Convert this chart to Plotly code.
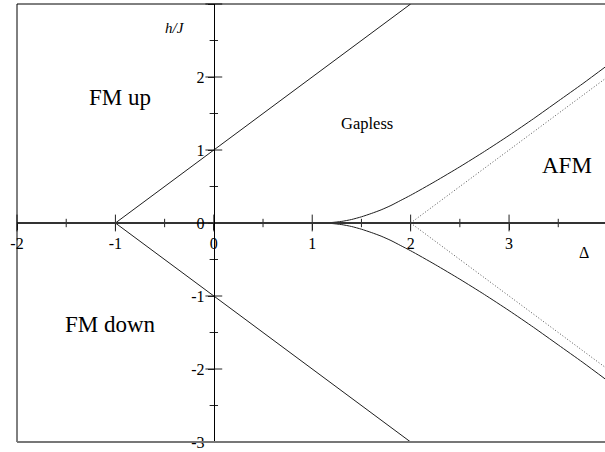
import plotly.graph_objects as go

# Phase diagram of the XXZ chain in a field: anisotropy Delta vs h/J
# Saturation lines h = +/-(1 + Delta)
sat_delta = [-1.0, 2.0]
sat_h_up = [0.0, 3.0]
sat_h_down = [0.0, -3.0]

# Gap boundary of the AFM (Neel) phase
gap_delta = [1.0, 1.1, 1.2, 1.3, 1.4, 1.5, 1.6, 1.7, 1.8, 1.9, 2.0,
             2.25, 2.5, 2.75, 3.0, 3.25, 3.5, 3.75, 4.0]
gap_h = [0.0, 0.001, 0.007, 0.022, 0.048, 0.085, 0.13, 0.18, 0.24, 0.31, 0.38,
         0.57, 0.77, 0.98, 1.2, 1.43, 1.67, 1.91, 2.16]

# Large-Delta asymptote of the gap (dotted)
asym_delta = [2.0, 4.0]
asym_h = [0.0, 2.0]

# Axis ticks
x_major = [-2, -1, 0, 1, 2, 3]
x_minor = [-1.5, -0.5, 0.5, 1.5, 2.5, 3.5]
y_major = [-3, -2, -1, 0, 1, 2, 3]
y_minor = [-2.5, -1.5, -0.5, 0.5, 1.5, 2.5]

# Region labels
regions = ["FM up", "FM down", "Gapless", "AFM"]
region_x = [-0.95, -1.05, 1.56, 3.59]
region_y = [1.72, -1.39, 1.36, 0.79]
region_size = [23, 23, 16.5, 23]

X_RANGE = [-2.0, 3.975]
Y_RANGE = [-3.0, 3.0]
SERIF = "Liberation Serif"
LINE = "#1e1e1e"
TICK = "#222"

fig = go.Figure()

for h in (sat_h_up, sat_h_down):
    fig.add_trace(go.Scatter(x=sat_delta, y=h, mode="lines",
                             line=dict(color=LINE, width=1)))

fig.add_trace(go.Scatter(x=gap_delta, y=gap_h, mode="lines",
                         line=dict(color=LINE, width=1, shape="spline", smoothing=0.6)))
fig.add_trace(go.Scatter(x=gap_delta, y=[-v for v in gap_h], mode="lines",
                         line=dict(color=LINE, width=1, shape="spline", smoothing=0.6)))

fig.add_trace(go.Scatter(x=asym_delta, y=asym_h, mode="lines",
                         line=dict(color="#555", width=1, dash="1px,2px")))
fig.add_trace(go.Scatter(x=asym_delta, y=[-v for v in asym_h], mode="lines",
                         line=dict(color="#555", width=1, dash="1px,2px")))

# Tick marks crossing the axes
def tick_marks(xs, ys, symbol, size):
    return go.Scatter(x=xs, y=ys, mode="markers", cliponaxis=False,
                      marker=dict(symbol=symbol, size=size, color=TICK,
                                  line=dict(color=TICK, width=1)))

fig.add_trace(tick_marks(x_major, [0] * len(x_major), "line-ns-open", 12))
fig.add_trace(tick_marks(x_minor, [0] * len(x_minor), "line-ns-open", 6))
fig.add_trace(tick_marks([0] * len(y_major), y_major, "line-ew-open", 12))
fig.add_trace(tick_marks([0] * len(y_minor), y_minor, "line-ew-open", 6))

for name, x, y, s in zip(regions, region_x, region_y, region_size):
    fig.add_annotation(x=x, y=y, xref="x", yref="y", text=name, showarrow=False,
                       font=dict(family=SERIF, size=s, color="black"))

fig.add_annotation(x=-0.39, y=2.67, xref="x", yref="y", text="<i>h/J</i>", showarrow=False,
                   font=dict(family=SERIF, size=15, color="black"))
fig.add_annotation(x=3.76, y=-0.41, xref="x", yref="y", text="Δ", showarrow=False,
                   font=dict(family=SERIF, size=16, color="black"))

y_zero_pos = (0 - Y_RANGE[0]) / (Y_RANGE[1] - Y_RANGE[0])
x_zero_pos = (0 - X_RANGE[0]) / (X_RANGE[1] - X_RANGE[0])

fig.update_layout(
    width=605, height=452,
    margin=dict(l=17, r=0, t=4, b=10),
    paper_bgcolor="white", plot_bgcolor="white",
    showlegend=False,
    font=dict(family=SERIF, color="black"),
    xaxis=dict(range=X_RANGE, anchor="free", position=y_zero_pos,
               showline=True, linecolor="#333", linewidth=2,
               tickvals=x_major, ticktext=[str(v) for v in x_major],
               ticks="outside", ticklen=6, tickcolor=TICK,
               tickfont=dict(family=SERIF, size=16, color="black"),
               showgrid=False, zeroline=False),
    yaxis=dict(range=Y_RANGE, anchor="free", position=x_zero_pos,
               showline=True, linecolor="black", linewidth=1,
               tickvals=y_major, ticktext=[str(v) for v in y_major],
               ticks="outside", ticklen=6, tickcolor=TICK,
               tickfont=dict(family=SERIF, size=16, color="black"),
               showgrid=False, zeroline=False),
    shapes=[
        dict(type="line", xref="paper", yref="paper", x0=0, x1=1, y0=1, y1=1,
             line=dict(color="black", width=1)),
        dict(type="line", xref="paper", yref="paper", x0=0, x1=0, y0=0, y1=1,
             line=dict(color="black", width=1)),
        dict(type="line", xref="paper", yref="paper", x0=0, x1=1, y0=0, y1=0,
             line=dict(color="#777", width=2)),
    ],
)

fig.write_html("out.html")
